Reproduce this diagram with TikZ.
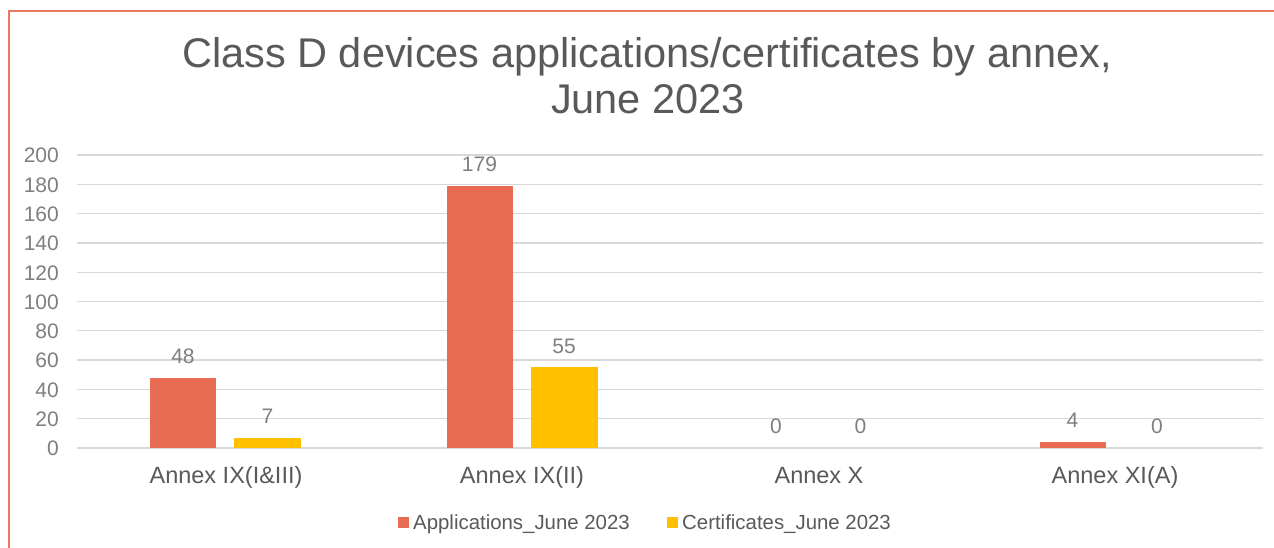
\documentclass[tikz,border=0pt]{standalone}
\usepackage{fontspec}
\setmainfont{Liberation Sans}
\definecolor{appc}{HTML}{E86C54}
\definecolor{certc}{HTML}{FFC000}
\definecolor{framec}{HTML}{EE7763}
\definecolor{gridc}{HTML}{D9D9D9}
\definecolor{titlec}{HTML}{595959}
\definecolor{tickc}{HTML}{7F7F7F}
\begin{document}
\begin{tikzpicture}[x=1pt,y=-1pt,
  titletext/.style={text=titlec,font=\fontsize{41.5}{48}\selectfont,anchor=base,inner sep=0pt},
  ticktext/.style={text=tickc,font=\fontsize{21}{24}\selectfont,anchor=base east,inner sep=0pt},
  valtext/.style={text=tickc,font=\fontsize{21}{24}\selectfont,anchor=base,inner sep=0pt},
  cattext/.style={text=titlec,font=\fontsize{23.5}{27}\selectfont,anchor=base,inner sep=0pt},
  legtext/.style={text=titlec,font=\fontsize{20.4}{24}\selectfont,anchor=base west,inner sep=0pt},
  gridline/.style={draw=gridc,line width=1.3pt},
  appbar/.style={fill=appc},
  certbar/.style={fill=certc}]
\useasboundingbox (0,0) rectangle (1274,548);
\fill[white] (0,0) rectangle (1274,548);
% frame
\draw[framec,line width=1.4pt] (9,560) -- (9,11) -- (1290,11);
% title
\node[titletext] (title1) at (647,68) {Class D devices applications/certificates by annex,};
\node[titletext] (title2) at (648,113.3) {June 2023};
% grid and ticks
\foreach \v in {0,20,...,200}{
  \draw[gridline] (77,{448-\v*1.465}) -- (1263,{448-\v*1.465});
  \node[ticktext] (tick\v) at (59,{448-\v*1.465+7.8}) {\v};
}
% bars
\foreach \i/\a/\c in {0/48/7,1/179/55,2/0/0,3/4/0}{
  \pgfmathsetmacro{\xa}{150+\i*296.5}
  \pgfmathsetmacro{\xc}{234+\i*296.5}
  \ifnum\a>0 \fill[appbar] (\xa,448) rectangle ({\xa+66},{448-\a*1.465}); \fi
  \ifnum\c>0 \fill[certbar] (\xc,448) rectangle ({\xc+67},{448-\c*1.465}); \fi
  \node[valtext] (va\i) at ({\xa+33},{448-\a*1.465-14.3}) {\a};
  \node[valtext] (vc\i) at ({\xc+33.5},{448-\c*1.465-14.3}) {\c};
}
% categories
\node[cattext] (cat0) at (226,483.5) {Annex IX(I\&III)};
\node[cattext] (cat1) at (522,483.5) {Annex IX(II)};
\node[cattext] (cat2) at (819,483.5) {Annex X};
\node[cattext] (cat3) at (1115,483.5) {Annex XI(A)};
% legend
\fill[appbar] (398,516.5) rectangle (409,527.5);
\node[legtext] (leg1) at (413,529) {Applications\_June 2023};
\fill[certbar] (667,516.5) rectangle (678,527.5);
\node[legtext] (leg2) at (682,529) {Certificates\_June 2023};
\end{tikzpicture}
\end{document}
